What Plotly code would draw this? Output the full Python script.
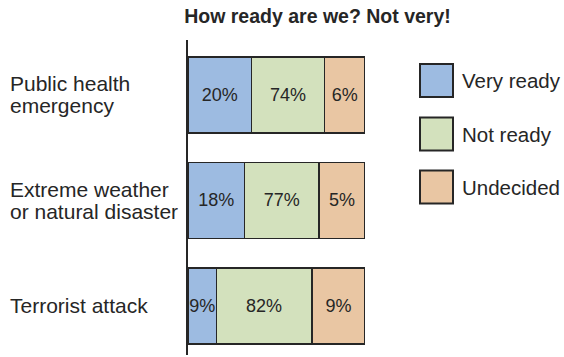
import plotly.graph_objects as go

# Categories, survey shares and the segment lengths as drawn in the picture
# (the original graphic does not draw segments proportional to the shares).
CATEGORIES = ["Public health<br>emergency",
              "Extreme weather<br>or natural disaster",
              "Terrorist attack"]
SERIES = ["Very ready", "Not ready", "Undecided"]
SHARES = {
    "Very ready": [20, 18, 9],
    "Not ready": [74, 77, 82],
    "Undecided": [6, 5, 9],
}
DRAWN_LENGTHS = {
    "Very ready": [36, 32, 16],
    "Not ready": [41, 42, 54],
    "Undecided": [23, 26, 30],
}
COLORS = {
    "Very ready": "#9dbbe1",
    "Not ready": "#d3e1bd",
    "Undecided": "#e9c6a3",
}

W, H = 564, 357
L, R, T, B = 188, 199, 40, 2
FONT = "Liberation Sans, Arial, Helvetica, sans-serif"
INK = "#262626"


def px_x(p):
    return (p - L) / (W - L - R)


def px_y(p):
    return 1 - (p - T) / (H - T - B)


fig = go.Figure()
for s in SERIES:
    fig.add_trace(go.Bar(
        y=CATEGORIES,
        x=DRAWN_LENGTHS[s],
        orientation="h",
        name=s,
        marker=dict(color=COLORS[s], line=dict(color=INK, width=1.5)),
        text=[f"{v}%" for v in SHARES[s]],
        textposition="inside",
        insidetextanchor="middle",
        textangle=0,
        constraintext="none",
        textfont=dict(family=FONT, size=18, color=INK),
        hoverinfo="skip",
    ))

# category labels, left aligned, line by line for tight spacing
for cat in CATEGORIES:
    lines = cat.split("<br>")
    n = len(lines)
    for i, line in enumerate(lines):
        fig.add_annotation(
            x=px_x(8), xref="paper", xanchor="left",
            y=cat, yref="y", yanchor="middle",
            yshift=-(i - (n - 1) / 2) * 22,
            text=line, showarrow=False,
            font=dict(family=FONT, size=21, color=INK),
        )

# hand-built legend
legend_centers = [80.5, 134, 187]
for s, cy in zip(SERIES, legend_centers):
    fig.add_shape(
        type="rect", xref="paper", yref="paper",
        x0=px_x(420), x1=px_x(453), y0=px_y(cy + 16.5), y1=px_y(cy - 16.5),
        fillcolor=COLORS[s], line=dict(color=INK, width=2),
    )
    fig.add_annotation(
        x=px_x(460), xref="paper", xanchor="left",
        y=px_y(cy), yref="paper", yanchor="middle",
        text=s, showarrow=False,
        font=dict(family=FONT, size=20.5, color=INK),
    )

fig.update_layout(
    width=W, height=H,
    margin=dict(l=L, r=R, t=T, b=B),
    paper_bgcolor="white", plot_bgcolor="white",
    barmode="stack", bargap=0.28,
    showlegend=False,
    title=dict(
        text="<b>How ready are we? Not very!</b>",
        xref="container", x=317.5 / W, xanchor="center",
        yref="container", y=1 - 16 / H, yanchor="middle",
        font=dict(family=FONT, size=19.5, color=INK),
    ),
    xaxis=dict(range=[0, 100], visible=False, fixedrange=True),
    yaxis=dict(
        range=[2.465, -0.52], showticklabels=False, showgrid=False,
        zeroline=False, showline=True, linecolor=INK, linewidth=2,
        ticks="", fixedrange=True,
    ),
)

fig.write_html("out.html", config={"displayModeBar": False},
               post_script="document.body.style.margin='0';")
